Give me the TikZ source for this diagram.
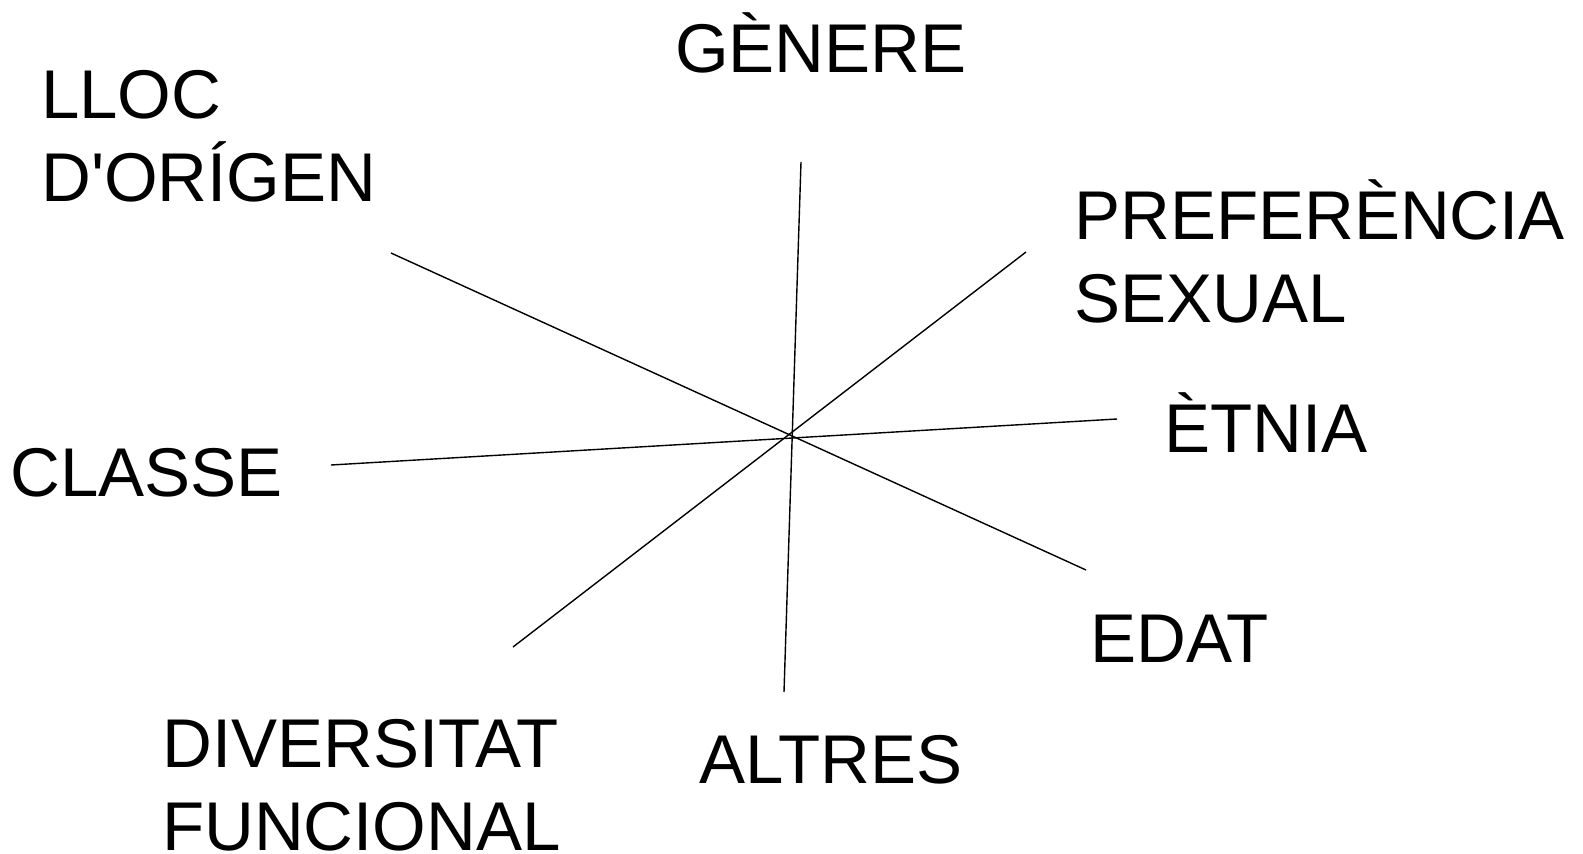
\documentclass[tikz,border=0pt]{standalone}
\usepackage{fontspec}
\setmainfont{Liberation Sans}
\usetikzlibrary{positioning}

\begin{document}
\begin{tikzpicture}[x=1pt, y=-1pt,
    tag/.style={anchor=base west, inner sep=0pt, align=left,
      font=\fontsize{69}{83}\selectfont},
    spoke/.style={line width=1.4pt}]
      \useasboundingbox (0,0) rectangle (1583,854);
      % extrems dels eixos
      \coordinate (genere) at (801,162);
      \coordinate (altres) at (784,692);
      \coordinate (prefer) at (1026,252);
      \coordinate (divers) at (513,647);
      \coordinate (lloc) at (391,253);
      \coordinate (edat) at (1086,570);
      \coordinate (classe) at (331,465);
      \coordinate (etnia) at (1117,419);
      \foreach \a/\b in {genere/altres, prefer/divers, lloc/edat, classe/etnia} {
        \draw[spoke] (\a) -- (\b);
      }
      % etiquetes (base = darrera linia)
      \node[tag] (tGenere) at (675,72) {GÈNERE};
      \node[tag] (tLloc) at (41,201) {LLOC\\D\textquotesingle ORÍGEN};
      \node[tag] (tPrefer) at (1074,322) {PREFERÈNCIA\\SEXUAL};
      \node[tag] (tEtnia) at (1164,452) {ÈTNIA};
      \node[tag] (tClasse) at (10,496) {CLASSE};
      \node[tag] (tEdat) at (1090,662) {EDAT};
      \node[tag] (tDivers) at (162,850) {DIVERSITAT\\FUNCIONAL};
      \node[tag] (tAltres) at (699,783) {ALTRES};
    \end{tikzpicture}
\end{document}
